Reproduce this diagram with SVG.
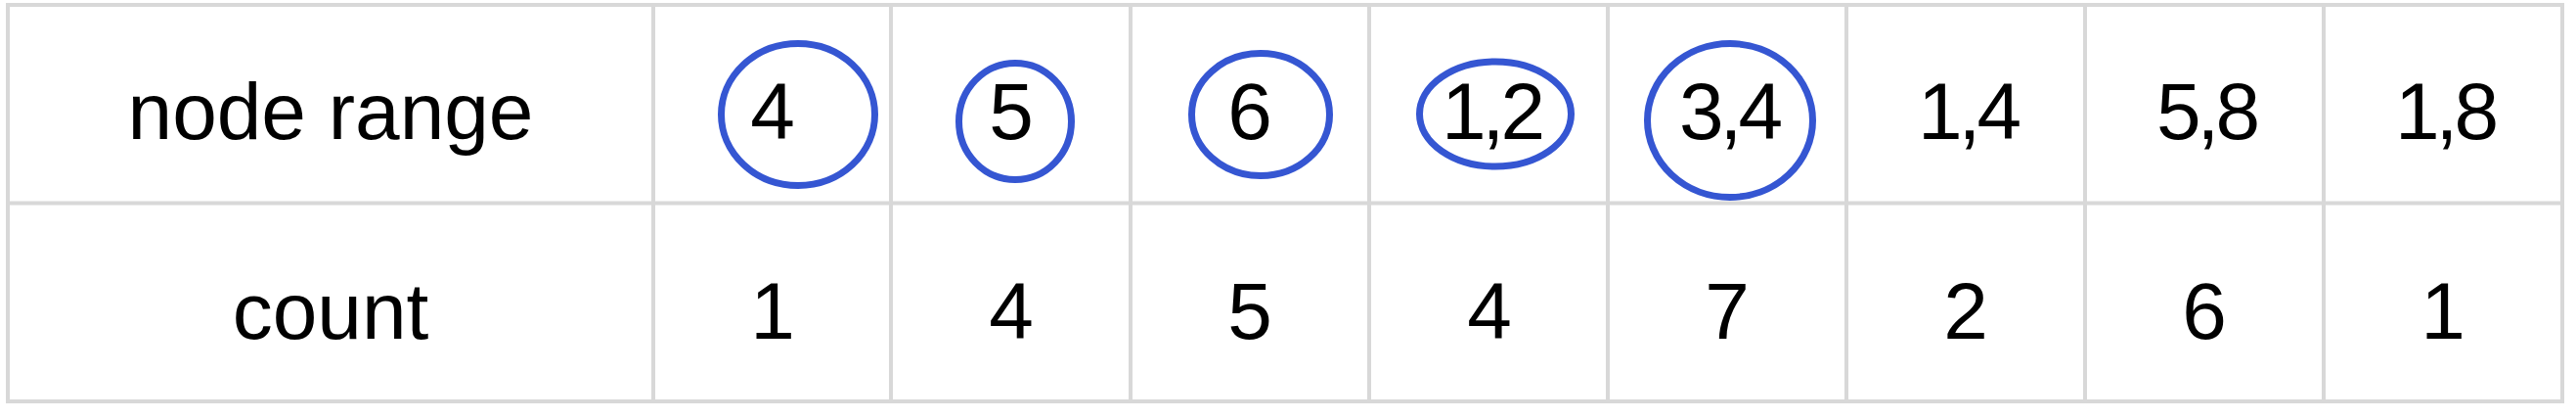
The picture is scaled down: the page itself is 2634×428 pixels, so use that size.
<svg xmlns="http://www.w3.org/2000/svg" width="2634" height="428" viewBox="0 0 2634 428">
  <style>
    .grid { stroke: #d8d8d8; stroke-width: 4; fill: none; }
    .t { font-family: "Liberation Sans", Arial, sans-serif; font-size: 82px; fill: #000000; text-anchor: middle; }
    .p { letter-spacing: -4px; }
    .mark { fill: none; stroke: #3556d2; stroke-width: 7; }
  </style>
  <rect width="2634" height="428" fill="#ffffff"/>
  <g id="grid">
    <rect class="grid" x="8" y="5" width="2612" height="405"/>
    <line class="grid" x1="8" y1="207.5" x2="2620" y2="207.5"/>
    <line class="grid" x1="668" y1="5" x2="668" y2="410"/>
    <line class="grid" x1="911" y1="5" x2="911" y2="410"/>
    <line class="grid" x1="1156" y1="5" x2="1156" y2="410"/>
    <line class="grid" x1="1400" y1="5" x2="1400" y2="410"/>
    <line class="grid" x1="1644" y1="5" x2="1644" y2="410"/>
    <line class="grid" x1="1888" y1="5" x2="1888" y2="410"/>
    <line class="grid" x1="2132" y1="5" x2="2132" y2="410"/>
    <line class="grid" x1="2376" y1="5" x2="2376" y2="410"/>
  </g>
  <g id="header">
    <text class="t" x="338" y="142">node range</text>
    <text class="t" x="338" y="346">count</text>
  </g>
  <g id="col1">
    <text class="t" x="790" y="142">4</text>
    <text class="t" x="790" y="346">1</text>
  </g>
  <g id="col2">
    <text class="t" x="1034" y="142">5</text>
    <text class="t" x="1034" y="346">4</text>
  </g>
  <g id="col3">
    <text class="t" x="1278" y="142">6</text>
    <text class="t" x="1278" y="346">5</text>
  </g>
  <g id="col4">
    <text class="t p" x="1525" y="142">1,2</text>
    <text class="t" x="1523" y="346">4</text>
  </g>
  <g id="col5">
    <text class="t p" x="1768" y="142">3,4</text>
    <text class="t" x="1766" y="346">7</text>
  </g>
  <g id="col6">
    <text class="t p" x="2012" y="142">1,4</text>
    <text class="t" x="2010" y="346">2</text>
  </g>
  <g id="col7">
    <text class="t p" x="2256" y="142">5,8</text>
    <text class="t" x="2254" y="346">6</text>
  </g>
  <g id="col8">
    <text class="t p" x="2500" y="142">1,8</text>
    <text class="t" x="2498" y="346">1</text>
  </g>
  <g id="marks">
    <ellipse class="mark" cx="816" cy="117" rx="78.5" ry="72.5"/>
    <ellipse class="mark" cx="1038" cy="124" rx="57.5" ry="59.5"/>
    <ellipse class="mark" cx="1289" cy="117" rx="70.5" ry="62.5"/>
    <ellipse class="mark" cx="1529" cy="116.5" rx="77.5" ry="53.5"/>
    <ellipse class="mark" cx="1769" cy="123" rx="84.5" ry="78.5"/>
  </g>
</svg>
